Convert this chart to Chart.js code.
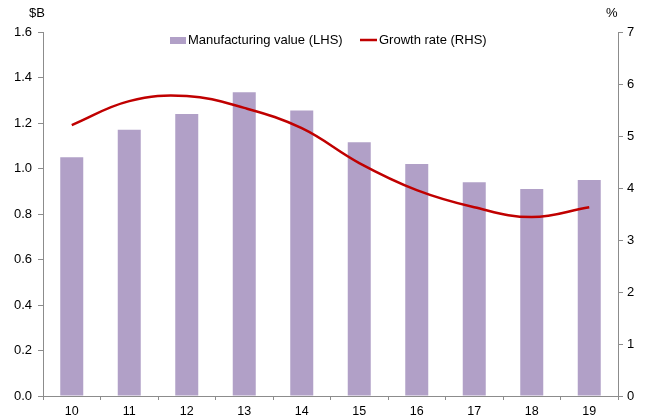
<!DOCTYPE html>
<html>
<head>
<meta charset="utf-8">
<script src="https://cdn.jsdelivr.net/npm/chart.js@4"></script>
<style>
  html, body { margin: 0; padding: 0; background: #fff; }
  #wrap { width: 646px; height: 418px; }
</style>
</head>
<body>
<div id="wrap"><canvas id="chart" width="646" height="418"></canvas></div>
<script>
/* global Chart */

const years = ["10", "11", "12", "13", "14", "15", "16", "17", "18", "19"];
const manufacturingValue = [1.05, 1.17, 1.24, 1.335, 1.255, 1.115, 1.02, 0.94, 0.91, 0.95];
const growthRate = [5.21, 5.67, 5.77, 5.54, 5.15, 4.48, 3.96, 3.63, 3.44, 3.63];
const leftTicks = [0, 0.2, 0.4, 0.6, 0.8, 1.0, 1.2, 1.4, 1.6];
const rightTicks = [0, 1, 2, 3, 4, 5, 6, 7];

const axisGrey = "#8c8c8c";
const barColor = "#b1a0c7";
const lineColor = "#c00000";
const fontFamily = "'Liberation Sans', Arial, sans-serif";

// unit labels above both axes + the legend across the top
const extras = {
    id: "extras",
    afterDraw(chart) {
        const ctx = chart.ctx;
        ctx.save();
        ctx.fillStyle = "#000";
        ctx.font = "13px " + fontFamily;
        ctx.textBaseline = "middle";
        ctx.textAlign = "left";
        ctx.fillText("$B", 29, 13);
        ctx.fillText("%", 606, 13);

        // legend
        const ds = chart.data.datasets;
        ctx.fillStyle = barColor;
        ctx.fillRect(170, 37, 16, 7);
        ctx.fillStyle = "#000";
        ctx.fillText(ds[1].label, 188, 40);

        ctx.strokeStyle = lineColor;
        ctx.lineWidth = 2.5;
        ctx.beginPath();
        ctx.moveTo(360, 40);
        ctx.lineTo(377, 40);
        ctx.stroke();
        ctx.fillText(ds[0].label, 379, 40);
        ctx.restore();
    },
};

const chart_el = document.getElementById("chart");

new Chart(chart_el, {
    data: {
        labels: years,
        datasets: [
            {
                type: "line",
                label: "Growth rate (RHS)",
                data: growthRate,
                yAxisID: "y1",
                borderColor: lineColor,
                backgroundColor: lineColor,
                borderWidth: 2.5,
                pointRadius: 0,
                tension: 0.4,
                order: 0,
            },
            {
                type: "bar",
                label: "Manufacturing value (LHS)",
                data: manufacturingValue,
                yAxisID: "y",
                backgroundColor: barColor,
                borderWidth: 0,
                barPercentage: 0.4,
                categoryPercentage: 1,
                order: 1,
            },
        ],
    },
    options: {
        responsive: false,
        animation: false,
        layout: { padding: { top: 32, left: 0, right: 0, bottom: 0 } },
        plugins: {
            tooltip: { enabled: false },
            legend: { display: false },
        },
        scales: {
            x: {
                offset: true,
                afterFit: (scale) => { scale.height = 22; },
                border: { color: axisGrey, width: 1 },
                grid: {
                    offset: true,
                    drawOnChartArea: false,
                    drawTicks: true,
                    tickLength: 4,
                    tickColor: axisGrey,
                },
                ticks: {
                    color: "#000",
                    padding: 4,
                    font: { family: fontFamily, size: 12.5 },
                },
            },
            y: {
                position: "left",
                min: 0,
                max: 1.6,
                afterFit: (scale) => { scale.width = 43; },
                afterBuildTicks: (scale) => {
                    scale.ticks = leftTicks.map((v) => ({ value: v }));
                },
                border: { color: axisGrey, width: 1 },
                grid: {
                    drawOnChartArea: false,
                    tickLength: 5,
                    tickColor: axisGrey,
                },
                ticks: {
                    color: "#000",
                    padding: 6,
                    font: { family: fontFamily, size: 13 },
                    callback: (v) => Number(v).toFixed(1),
                },
            },
            y1: {
                position: "right",
                min: 0,
                max: 7,
                afterFit: (scale) => { scale.width = 28; },
                afterBuildTicks: (scale) => {
                    scale.ticks = rightTicks.map((v) => ({ value: v }));
                },
                border: { color: axisGrey, width: 1 },
                grid: {
                    drawOnChartArea: false,
                    tickLength: 5,
                    tickColor: axisGrey,
                },
                ticks: {
                    color: "#000",
                    padding: 4,
                    font: { family: fontFamily, size: 13 },
                },
            },
        },
    },
    plugins: [extras],
});
</script>
</body>
</html>
